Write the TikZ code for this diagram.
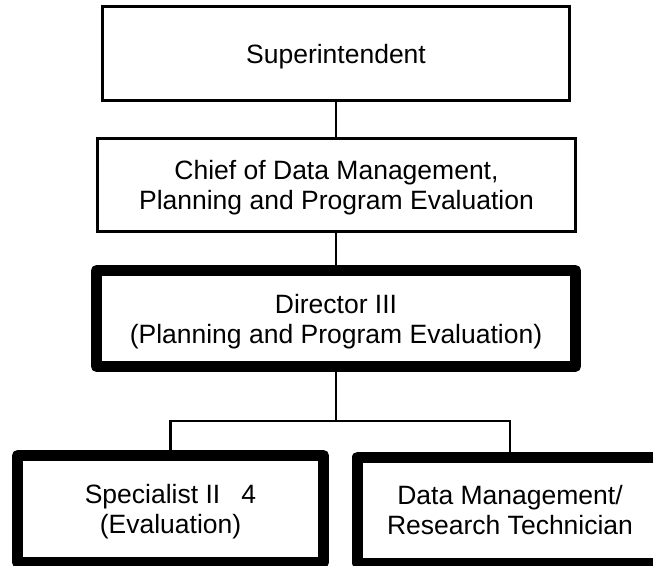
\documentclass[tikz,border=0pt]{standalone}
\usepackage{fontspec}
\setmainfont{Liberation Sans}
\begin{document}
\begin{tikzpicture}[
        x=0.5pt, y=-0.5pt,
        box/.style={rectangle,draw,line width=1.5pt,align=center,text depth=0pt,font=\fontsize{13.25}{15}\selectfont},
        boldbox/.style={box,line width=5.5pt,line join=round},
        link/.style={line width=1.1pt}
    ]
        \clip (0,0) rectangle (653,566);
        \node[box, minimum width=233.5pt, minimum height=47pt] (super) at (336,53.5) {Superintendent};
        \node[box, minimum width=239pt, minimum height=46.5pt] (chief) at (336.5,185) {Chief of Data Management,\\Planning and Program Evaluation};
        \node[boldbox, minimum width=239.5pt, minimum height=48pt] (dir) at (336,318.5) {Director III\\(Planning and Program Evaluation)};
        \node[boldbox, minimum width=153pt, minimum height=53.5pt] (spec) at (170.5,509) {Specialist II\hspace{0.8em}4\\(Evaluation)};
        \node[boldbox, minimum width=152.5pt, minimum height=53pt] (tech) at (510,510) {Data Management/\\Research Technician};
        \coordinate (bus) at (336,421);

        \draw[link] (super.south) -- (super.south |- chief.north);
        \draw[link] (chief.south -| dir.north) -- (dir.north);
        \draw[link] (dir.south) -- (bus);
        \draw[link] (spec.north) |- (bus) -| (tech.north);
    \end{tikzpicture}
\end{document}
